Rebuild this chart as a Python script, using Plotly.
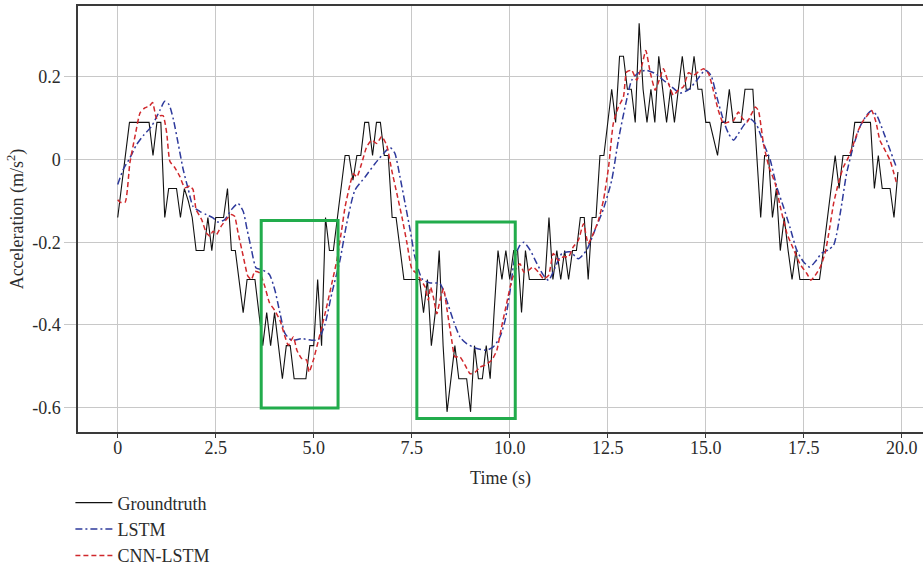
import plotly.graph_objects as go

# Measured acceleration sampled every 0.1 s
truth_time = [round(i * 0.1, 1) for i in range(200)]
truth_acc = [
    -0.14, -0.06, 0.01, 0.09, 0.09, 0.09, 0.09, 0.09, 0.09, 0.01,
    0.09, 0.09, -0.14, -0.07, -0.07, -0.07, -0.14, -0.07, -0.10, -0.14,
    -0.22, -0.22, -0.22, -0.14, -0.22, -0.14, -0.14, -0.14, -0.07, -0.22,
    -0.22, -0.29, -0.37, -0.29, -0.29, -0.29, -0.37, -0.45, -0.37, -0.45,
    -0.37, -0.45, -0.53, -0.45, -0.45, -0.53, -0.53, -0.53, -0.53, -0.45,
    -0.45, -0.29, -0.45, -0.14, -0.22, -0.22, -0.14, -0.07, 0.01, 0.01,
    -0.05, 0.01, 0.01, 0.09, 0.09, 0.01, 0.09, 0.09, 0.01, 0.01,
    -0.14, -0.14, -0.22, -0.29, -0.29, -0.29, -0.29, -0.29, -0.37, -0.29,
    -0.45, -0.37, -0.22, -0.45, -0.61, -0.53, -0.45, -0.53, -0.53, -0.53,
    -0.61, -0.45, -0.53, -0.53, -0.45, -0.53, -0.37, -0.22, -0.29, -0.22,
    -0.29, -0.22, -0.22, -0.37, -0.22, -0.29, -0.29, -0.29, -0.29, -0.29,
    -0.14, -0.29, -0.22, -0.29, -0.22, -0.29, -0.22, -0.22, -0.14, -0.14,
    -0.29, -0.14, -0.14, 0.01, 0.01, 0.09, 0.17, 0.09, 0.25, 0.25,
    0.17, 0.17, 0.09, 0.33, 0.17, 0.09, 0.17, 0.09, 0.25, 0.17,
    0.09, 0.17, 0.09, 0.17, 0.25, 0.17, 0.17, 0.25, 0.17, 0.17,
    0.09, 0.09, 0.05, 0.01, 0.09, 0.09, 0.17, 0.09, 0.09, 0.09,
    0.17, 0.17, 0.17, 0.01, -0.14, 0.01, 0.01, -0.14, -0.07, -0.22,
    -0.14, -0.22, -0.29, -0.22, -0.29, -0.29, -0.29, -0.29, -0.29, -0.29,
    -0.22, -0.14, -0.07, 0.01, -0.07, 0.01, 0.01, 0.01, 0.09, 0.09,
    0.09, 0.09, 0.09, -0.07, 0.01, -0.07, -0.07, -0.07, -0.14, -0.03,
]

# LSTM prediction
lstm_time = [
    0.0, 0.14, 0.31, 0.48, 0.65, 0.86, 1.08, 1.2, 1.31, 1.42, 1.54, 1.67, 1.8, 1.92,
    2.09, 2.26, 2.43, 2.56, 2.73, 2.9, 3.07, 3.2, 3.3, 3.41, 3.53, 3.7, 3.87, 4.01,
    4.14, 4.27, 4.44, 4.69, 4.95, 5.12, 5.29, 5.46, 5.67, 5.84, 6.05, 6.31, 6.56,
    6.78, 6.95, 7.07, 7.2, 7.33, 7.46, 7.58, 7.76, 7.95, 8.22, 8.39, 8.56, 8.73,
    8.9, 9.16, 9.41, 9.58, 9.75, 9.88, 10.01, 10.13, 10.26, 10.36, 10.52, 10.69,
    10.86, 10.99, 11.16, 11.33, 11.54, 11.75, 11.96, 12.17, 12.39, 12.6, 12.77,
    12.94, 13.11, 13.28, 13.49, 13.71, 13.92, 14.13, 14.34, 14.56, 14.77, 14.98,
    15.13, 15.28, 15.45, 15.58, 15.71, 15.83, 16.0, 16.13, 16.3, 16.47, 16.64,
    16.81, 16.98, 17.15, 17.32, 17.49, 17.65, 17.79, 17.96, 18.13, 18.26, 18.34,
    18.47, 18.59, 18.76, 18.93, 19.1, 19.23, 19.36, 19.53, 19.7, 19.86,
]
lstm_acc = [
    -0.06, -0.024, 0.004, 0.036, 0.058, 0.08, 0.12, 0.141, 0.133, 0.097, 0.04, -0.024,
    -0.072, -0.113, -0.125, -0.133, -0.141, -0.151, -0.145, -0.121, -0.106, -0.125,
    -0.169, -0.217, -0.262, -0.267, -0.278, -0.316, -0.372, -0.421, -0.437, -0.433,
    -0.437, -0.435, -0.397, -0.324, -0.243, -0.155, -0.074, -0.042, -0.01, 0.015,
    0.029, 0.015, -0.042, -0.106, -0.171, -0.235, -0.288, -0.298, -0.3, -0.34,
    -0.389, -0.429, -0.445, -0.457, -0.461, -0.453, -0.429, -0.389, -0.316, -0.236,
    -0.207, -0.2, -0.219, -0.251, -0.28, -0.292, -0.26, -0.227, -0.223, -0.24,
    -0.219, -0.171, -0.119, -0.05, 0.047, 0.127, 0.192, 0.21, 0.216, 0.208, 0.192,
    0.176, 0.161, 0.169, 0.192, 0.216, 0.204, 0.152, 0.095, 0.063, 0.047, 0.063,
    0.087, 0.099, 0.083, 0.04, 0.0, -0.066, -0.114, -0.165, -0.219, -0.247, -0.26,
    -0.247, -0.226, -0.218, -0.207, -0.179, -0.106, -0.034, 0.031, 0.079, 0.107,
    0.118, 0.107, 0.067, 0.023, -0.018,
]

# CNN-LSTM prediction
cnn_time = [
    0.0, 0.06, 0.19, 0.31, 0.44, 0.57, 0.69, 0.81, 0.89, 0.99, 1.08, 1.16, 1.25, 1.33,
    1.46, 1.58, 1.71, 1.84, 1.92, 2.0, 2.14, 2.26, 2.35, 2.43, 2.52, 2.64, 2.77, 2.9,
    2.98, 3.07, 3.2, 3.32, 3.41, 3.5, 3.62, 3.75, 3.87, 4.0, 4.14, 4.27, 4.35, 4.48,
    4.57, 4.69, 4.82, 4.88, 4.99, 5.12, 5.29, 5.46, 5.59, 5.71, 5.8, 5.93, 6.01, 6.1,
    6.22, 6.35, 6.48, 6.61, 6.73, 6.86, 6.99, 7.12, 7.25, 7.38, 7.5, 7.63, 7.71, 7.84,
    7.92, 7.98, 8.05, 8.14, 8.22, 8.31, 8.39, 8.52, 8.6, 8.73, 8.86, 8.99, 9.12, 9.24,
    9.37, 9.54, 9.67, 9.79, 9.92, 10.05, 10.18, 10.26, 10.36, 10.47, 10.6, 10.73,
    10.86, 10.99, 11.11, 11.24, 11.37, 11.5, 11.62, 11.75, 11.88, 12.0, 12.13, 12.26,
    12.39, 12.52, 12.64, 12.77, 12.9, 12.98, 13.11, 13.24, 13.37, 13.47, 13.58, 13.71,
    13.81, 13.92, 14.05, 14.17, 14.3, 14.43, 14.56, 14.69, 14.81, 14.94, 15.07, 15.19,
    15.32, 15.45, 15.58, 15.71, 15.83, 15.94, 16.05, 16.17, 16.26, 16.34, 16.47, 16.6,
    16.77, 16.9, 17.07, 17.23, 17.4, 17.58, 17.68, 17.79, 17.92, 18.04, 18.15, 18.26,
    18.39, 18.51, 18.64, 18.77, 18.89, 19.02, 19.15, 19.23, 19.34, 19.44, 19.57, 19.7,
    19.8, 19.87,
]
cnn_acc = [
    -0.097, -0.103, -0.103, -0.008, 0.056, 0.113, 0.125, 0.13, 0.138, 0.1, 0.106, 0.106,
    0.064, -0.004, -0.02, -0.04, -0.068, -0.064, -0.072, -0.121, -0.145, -0.177,
    -0.185, -0.173, -0.181, -0.161, -0.145, -0.133, -0.137, -0.177, -0.233, -0.282,
    -0.29, -0.27, -0.274, -0.306, -0.346, -0.364, -0.389, -0.429, -0.449, -0.429,
    -0.461, -0.481, -0.485, -0.514, -0.485, -0.437, -0.372, -0.3, -0.243, -0.171,
    -0.114, -0.058, -0.034, -0.042, -0.01, 0.031, 0.047, 0.039, 0.056, 0.035, -0.026,
    -0.082, -0.139, -0.203, -0.264, -0.276, -0.288, -0.308, -0.34, -0.308, -0.332,
    -0.373, -0.34, -0.312, -0.357, -0.437, -0.477, -0.477, -0.497, -0.518, -0.514,
    -0.502, -0.497, -0.485, -0.461, -0.405, -0.348, -0.292, -0.26, -0.252, -0.272,
    -0.268, -0.26, -0.272, -0.288, -0.28, -0.227, -0.244, -0.235, -0.235, -0.211,
    -0.195, -0.155, -0.203, -0.179, -0.147, -0.098, -0.018, 0.087, 0.127, 0.152,
    0.212, 0.216, 0.192, 0.228, 0.264, 0.212, 0.168, 0.192, 0.22, 0.184, 0.156,
    0.168, 0.176, 0.21, 0.204, 0.212, 0.22, 0.208, 0.168, 0.119, 0.087, 0.091, 0.095,
    0.115, 0.099, 0.091, 0.111, 0.127, 0.119, 0.039, -0.014, -0.058, -0.114, -0.179,
    -0.215, -0.252, -0.276, -0.292, -0.28, -0.26, -0.227, -0.171, -0.106, -0.054,
    -0.018, 0.006, 0.039, 0.071, 0.095, 0.11, 0.119, 0.091, 0.047, 0.023, -0.002,
    -0.034, -0.058,
]

# Highlighted intervals: (t_start, t_end, acc_low, acc_high)
highlight_boxes = [
    (3.66, 5.62, -0.601, -0.147),
    (7.63, 10.14, -0.626, -0.151),
]

x_ticks = [0, 2.5, 5.0, 7.5, 10.0, 12.5, 15.0, 17.5, 20.0]
x_tick_text = ["0", "2.5", "5.0", "7.5", "10.0", "12.5", "15.0", "17.5", "20.0"]
y_ticks = [0.2, 0.0, -0.2, -0.4, -0.6]
y_tick_text = ["0.2", "0", "-0.2", "-0.4", "-0.6"]

FONT = "Liberation Serif"
FS = 18
TEXT = "#2b2b2b"
GRID = "#c8c8c8"
AXIS = "#3a3a3a"

fig = go.Figure()
fig.add_trace(go.Scatter(
    x=truth_time, y=truth_acc, mode="lines", name="Groundtruth",
    line=dict(color="#111111", width=1.1),
))
fig.add_trace(go.Scatter(
    x=lstm_time, y=lstm_acc, mode="lines", name="LSTM",
    line=dict(color="#2e3a9c", width=1.5, dash="7px,3px,2px,3px",
              shape="spline", smoothing=0.6),
))
fig.add_trace(go.Scatter(
    x=cnn_time, y=cnn_acc, mode="lines", name="CNN-LSTM",
    line=dict(color="#d0282c", width=1.5, dash="5px,3px",
              shape="spline", smoothing=0.5),
))

for t0, t1, a0, a1 in highlight_boxes:
    fig.add_shape(type="rect", xref="x", yref="y", x0=t0, x1=t1, y0=a0, y1=a1,
                  line=dict(color="#22ac4c", width=3), fillcolor="rgba(0,0,0,0)")

fig.update_layout(
    width=923, height=568,
    margin=dict(l=78, r=0, t=6, b=136, autoexpand=False),
    paper_bgcolor="white", plot_bgcolor="white",
    font=dict(family=FONT, size=FS, color=TEXT),
    showlegend=True,
    legend=dict(
        orientation="v", x=-0.009, xanchor="left", y=-0.123, yanchor="top",
        font=dict(family=FONT, size=FS, color=TEXT),
        itemwidth=37, bgcolor="rgba(0,0,0,0)", tracegroupgap=0,
    ),
    xaxis=dict(
        range=[-1.013, 20.54], tickmode="array", tickvals=x_ticks, ticktext=x_tick_text,
        showgrid=True, gridcolor=GRID, gridwidth=1, zeroline=False,
        showline=True, linecolor=AXIS, linewidth=1.5, mirror=True,
        ticks="outside", ticklen=4, tickcolor=AXIS, tickwidth=1,
        ticklabelstandoff=-5,
        tickfont=dict(family=FONT, size=FS, color=TEXT),
        automargin=False,
        title=dict(text="Time (s)", font=dict(family=FONT, size=FS, color=TEXT), standoff=14),
    ),
    yaxis=dict(
        range=[-0.6588, 0.3715], tickmode="array", tickvals=y_ticks, ticktext=y_tick_text,
        showgrid=True, gridcolor=GRID, gridwidth=1, zeroline=False,
        showline=True, linecolor=AXIS, linewidth=1.5,
        ticks="outside", ticklen=12, tickcolor=GRID, tickwidth=1,
        tickfont=dict(family=FONT, size=FS, color=TEXT),
        automargin=False,
        title=dict(text="Acceleration (m/s<sup>2</sup>)",
                   font=dict(family=FONT, size=FS, color=TEXT), standoff=4),
    ),
)

fig.write_html("out.html")
